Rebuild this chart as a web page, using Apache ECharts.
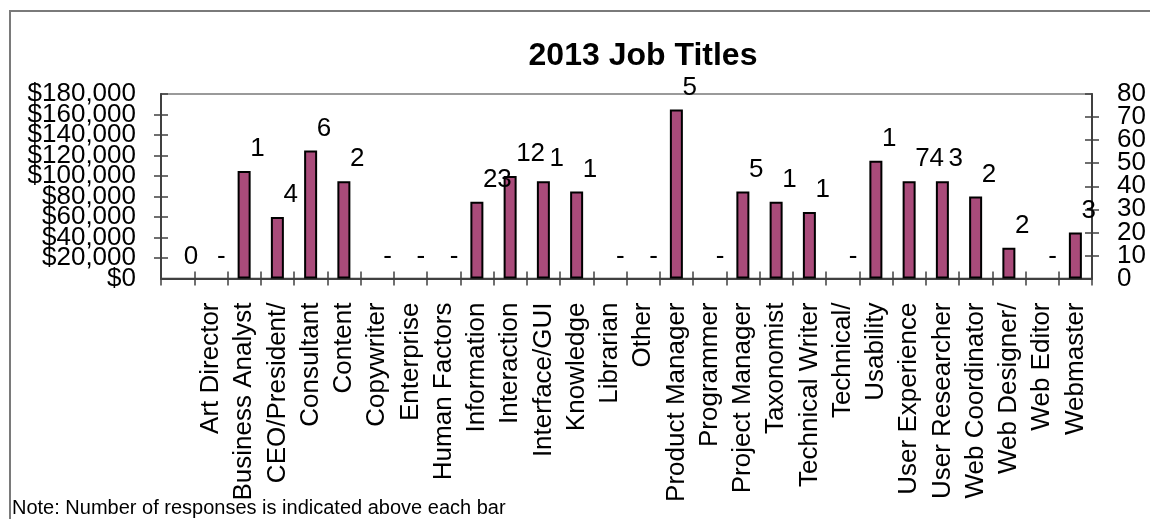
<!DOCTYPE html>
<html>
<head>
<meta charset="utf-8">
<script src="https://cdn.jsdelivr.net/npm/echarts@6/dist/echarts.min.js"></script>
<style>
html,body{margin:0;padding:0;background:#fff;}
#chart{width:1150px;height:519px;}
</style>
</head>
<body>
<div id="chart"></div>
<script>
const categories = ['', 'Art Director', 'Business Analyst', 'CEO/President/', 'Consultant', 'Content', 'Copywriter', 'Enterprise', 'Human Factors', 'Information', 'Interaction', 'Interface/GUI', 'Knowledge', 'Librarian', 'Other', 'Product Manager', 'Programmer', 'Project Manager', 'Taxonomist', 'Technical Writer', 'Technical/', 'Usability', 'User Experience', 'User Researcher', 'Web Coordinator', 'Web Designer/', 'Web Editor', 'Webmaster'];
const salaries = [0, 0, 105000, 60000, 125000, 95000, 0, 0, 0, 75000, 100000, 95000, 85000, 0, 0, 165000, 0, 85000, 75000, 65000, 0, 115000, 95000, 95000, 80000, 30000, 0, 45000];
const responses = ['0', '-', '1', '4', '6', '2', '-', '-', '-', '23', '12', '1', '1', '-', '-', '5', '-', '5', '1', '1', '-', '1', '74', '3', '2', '2', '-', '3'];
const salaryAxis = { min: 0, max: 180000, interval: 20000 };
const countAxis = { min: 0, max: 80, interval: 10 };
const titleText = '2013 Job Titles';
const noteText = 'Note: Number of responses is indicated above each bar';

const FONT = '"Liberation Sans", Arial, sans-serif';
const AXIS_COLOR = '#404040';

const chart = echarts.init(document.getElementById('chart'), null, { renderer: 'canvas' });

const fmtSalary = v => '$' + v.toLocaleString('en-US');
const fmtCount = v => String(v);

// kind: 'main' (line, outer ticks, inner labels), 'inner' (inside ticks only), 'ends' (min/max labels only)
function yAxisPart(cfg, pos, kind, labelFmt) {
  const ends = kind === 'ends';
  return {
    type: 'value', position: pos, min: cfg.min, max: cfg.max,
    interval: ends ? (cfg.max - cfg.min) : cfg.interval,
    splitLine: { show: false },
    axisLine: { show: kind === 'main', lineStyle: { color: AXIS_COLOR, width: 2 } },
    axisTick: { show: !ends, inside: kind === 'inner', length: 7, lineStyle: { color: AXIS_COLOR, width: 1.5 } },
    axisLabel: {
      show: kind !== 'inner',
      showMinLabel: ends, showMaxLabel: ends, hideOverlap: false,
      margin: 25, fontSize: 26, color: '#000', fontFamily: FONT, formatter: labelFmt
    }
  };
}

// bars with zero salary are simply not drawn (empty value), their labels come from the label layer
const barValues = salaries.map(v => (v === 0 ? '-' : v));

const option = {
  animation: false,
  backgroundColor: '#fff',
  title: {
    text: titleText, left: 638, top: 35, textAlign: 'center',
    textStyle: { fontSize: 32, fontWeight: 'bold', color: '#000', fontFamily: FONT }
  },
  grid: { left: 161, right: 58, top: 94, bottom: 240.5, show: true, borderColor: '#9a9a9a', borderWidth: 2 },
  xAxis: [
    {
      type: 'category', data: categories, position: 'bottom',
      axisLine: { show: true, lineStyle: { color: AXIS_COLOR, width: 2 } },
      axisTick: { show: true, inside: false, length: 7, interval: 0, lineStyle: { color: AXIS_COLOR, width: 1.5 } },
      axisLabel: { show: true, interval: 0, rotate: 90, margin: 24, fontSize: 26, color: '#000', fontFamily: FONT }
    },
    {
      type: 'category', data: categories, position: 'bottom',
      axisLine: { show: false },
      axisTick: { show: true, inside: true, length: 7, interval: 0, lineStyle: { color: AXIS_COLOR, width: 1.5 } },
      axisLabel: { show: false }
    }
  ],
  yAxis: [
    yAxisPart(salaryAxis, 'left', 'main', fmtSalary),
    yAxisPart(countAxis, 'right', 'main', fmtCount),
    yAxisPart(salaryAxis, 'left', 'inner'),
    yAxisPart(countAxis, 'right', 'inner'),
    yAxisPart(salaryAxis, 'left', 'ends', fmtSalary),
    yAxisPart(countAxis, 'right', 'ends', fmtCount)
  ],
  series: [
    {
      type: 'bar', xAxisIndex: 0, yAxisIndex: 0, data: barValues, barWidth: 13,
      itemStyle: { color: '#A94B7A', borderColor: '#000', borderWidth: 2 },
      z: 3
    },
    {
      type: 'bar', xAxisIndex: 0, yAxisIndex: 0, data: salaries, barWidth: 13, barGap: '-100%',
      itemStyle: { color: 'rgba(0,0,0,0)', borderWidth: 0 },
      z: 4,
      label: {
        show: true, position: 'top', align: 'left', distance: 5, offset: [6, -4],
        fontSize: 26, color: '#000', fontFamily: FONT,
        formatter: p => responses[p.dataIndex]
      }
    }
  ],
  graphic: [
    { type: 'rect', shape: { x: 10, y: 11, width: 1400, height: 800 }, style: { fill: 'none', stroke: '#7a7a7a', lineWidth: 2 }, silent: true },
    { type: 'text', left: 12, top: 498, style: { text: noteText, fontSize: 20, fill: '#000', fontFamily: FONT } }
  ]
};
chart.setOption(option);
</script>
</body>
</html>
